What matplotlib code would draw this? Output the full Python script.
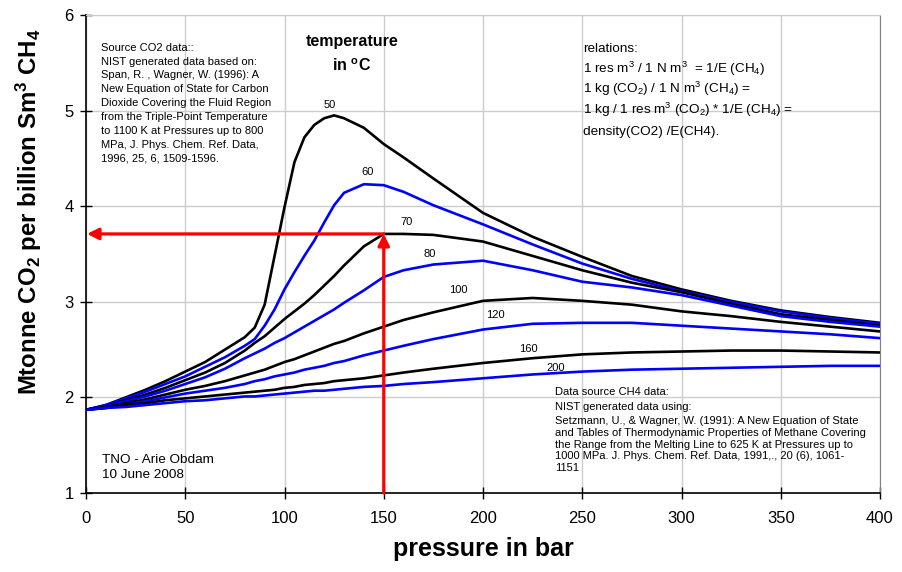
import numpy as np
import matplotlib.pyplot as plt

plt.rcParams['font.family'] = ['Liberation Sans', 'DejaVu Sans']
plt.rcParams['mathtext.fontset'] = 'custom'
plt.rcParams['mathtext.rm'] = 'Liberation Sans'
plt.rcParams['mathtext.it'] = 'Liberation Sans:italic'
plt.rcParams['mathtext.bf'] = 'Liberation Sans:bold'

# pressure grid (bar)
pressure = [0, 10, 20, 30, 40, 50, 60, 70, 80, 85, 90, 95, 100, 105, 110, 115,
            120, 125, 130, 140, 150, 160, 175, 200, 225, 250, 275, 300, 325,
            350, 375, 400]

# Mtonne CO2 per billion Sm3 CH4, one list per temperature (deg C)
t50 = [1.87, 1.92, 2.00, 2.08, 2.17, 2.27, 2.37, 2.50, 2.63, 2.73, 2.97, 3.48,
       3.99, 4.46, 4.72, 4.85, 4.92, 4.95, 4.92, 4.82, 4.65, 4.51, 4.29, 3.93,
       3.68, 3.47, 3.27, 3.13, 3.01, 2.91, 2.84, 2.78]
t60 = [1.87, 1.92, 1.99, 2.06, 2.14, 2.22, 2.32, 2.42, 2.54, 2.61, 2.75, 2.92,
       3.13, 3.31, 3.48, 3.64, 3.83, 4.01, 4.14, 4.23, 4.22, 4.15, 4.01, 3.81,
       3.60, 3.40, 3.24, 3.11, 3.00, 2.90, 2.83, 2.77]
t70 = [1.87, 1.91, 1.97, 2.03, 2.10, 2.18, 2.26, 2.36, 2.49, 2.57, 2.64, 2.73,
       2.82, 2.90, 2.98, 3.07, 3.17, 3.27, 3.38, 3.58, 3.71, 3.71, 3.70, 3.63,
       3.48, 3.33, 3.20, 3.10, 2.98, 2.87, 2.81, 2.75]
t80 = [1.87, 1.91, 1.96, 2.01, 2.07, 2.14, 2.21, 2.30, 2.41, 2.46, 2.51, 2.57,
       2.62, 2.68, 2.74, 2.80, 2.86, 2.92, 2.99, 3.12, 3.26, 3.33, 3.39, 3.43,
       3.33, 3.21, 3.15, 3.07, 2.96, 2.85, 2.79, 2.74]
t100 = [1.87, 1.90, 1.94, 1.98, 2.03, 2.08, 2.12, 2.17, 2.23, 2.26, 2.29, 2.33,
        2.37, 2.40, 2.44, 2.48, 2.52, 2.56, 2.59, 2.67, 2.74, 2.81, 2.89, 3.01,
        3.04, 3.01, 2.97, 2.90, 2.85, 2.79, 2.74, 2.69]
t120 = [1.87, 1.89, 1.92, 1.96, 2.00, 2.04, 2.07, 2.10, 2.14, 2.17, 2.19, 2.22,
        2.24, 2.26, 2.29, 2.31, 2.33, 2.36, 2.38, 2.44, 2.49, 2.54, 2.61, 2.71,
        2.77, 2.78, 2.78, 2.75, 2.72, 2.69, 2.66, 2.62]
t160 = [1.87, 1.89, 1.92, 1.94, 1.97, 1.99, 2.01, 2.03, 2.05, 2.06, 2.07, 2.08,
        2.10, 2.11, 2.13, 2.14, 2.15, 2.17, 2.18, 2.20, 2.23, 2.26, 2.30, 2.36,
        2.41, 2.45, 2.47, 2.48, 2.49, 2.49, 2.48, 2.47]
t200 = [1.87, 1.89, 1.90, 1.92, 1.94, 1.96, 1.97, 1.99, 2.01, 2.01, 2.02, 2.03,
        2.04, 2.05, 2.06, 2.07, 2.07, 2.08, 2.09, 2.11, 2.12, 2.14, 2.16, 2.20,
        2.24, 2.27, 2.29, 2.30, 2.31, 2.32, 2.33, 2.33]

temps = ['50', '60', '70', '80', '100', '120', '160', '200']
series = [t50, t60, t70, t80, t100, t120, t160, t200]
colors = ['black', '#0000ff'] * 4

# label anchor (pressure, value) for each curve
label_xy = [(123, 5.06), (142, 4.36), (161.7, 3.83), (173.3, 3.50),
            (187.4, 3.12), (206, 2.86), (222.7, 2.51), (236.8, 2.31)]

# example read-off: 150 bar at 70 C
read_p = 150
read_val = 3.71

fig = plt.figure(figsize=(9.02, 5.72), dpi=100)
ax = fig.add_axes([86/902, 79/572, 794/902, 478/572])

for y, c in zip(series, colors):
    ax.plot(pressure, y, color=c, lw=1.9, solid_joinstyle='round',
            solid_capstyle='round')

for t, (lx, ly) in zip(temps, label_xy):
    ax.text(lx, ly, t, fontsize=8, ha='center', va='center')

# red arrows
arr = dict(arrowstyle='-|>', color='red', lw=2.3, mutation_scale=17,
           shrinkA=0, shrinkB=0)
ax.annotate('', xy=(0.5, read_val), xytext=(read_p, read_val), arrowprops=arr)
ax.annotate('', xy=(read_p, read_val), xytext=(read_p, 1), arrowprops=arr)

ax.set_xlim(0, 400)
ax.set_ylim(1, 6)
ax.set_xticks(np.arange(0, 401, 50))
ax.set_yticks(np.arange(1, 7, 1))
ax.grid(True, color='#cccccc', lw=1)
ax.set_axisbelow(True)
ax.tick_params(direction='inout', length=8, width=1, labelsize=12, color='black')
ax.tick_params(axis='x', pad=9)
ax.tick_params(axis='y', pad=5)
for s in ['left', 'bottom']:
    ax.spines[s].set_linewidth(1.2)
ax.spines['right'].set_color('#808080')
ax.spines['top'].set_color('#cccccc')


def text_block(x, y0, lines, step, size):
    for i, s in enumerate(lines):
        ax.text(x, y0 - i * step, s, fontsize=size, va='baseline', ha='left')


co2_lines = ['Source CO2 data::',
             'NIST generated data based on:',
             'Span, R. , Wagner, W. (1996): A',
             'New Equation of State for Carbon',
             'Dioxide Covering the Fluid Region',
             'from the Triple-Point Temperature',
             'to 1100 K at Pressures up to 800',
             'MPa, J. Phys. Chem. Ref. Data,',
             '1996, 25, 6, 1509-1596.']
text_block(7.6, 5.627, co2_lines, 13.9 / 95.6, 8)

rel_lines = ['relations:',
             '1 res m$^3$ / 1 N m$^3$  = 1/E (CH$_4$)',
             '1 kg (CO$_2$) / 1 N m$^3$ (CH$_4$) =',
             '1 kg / 1 res m$^3$ (CO$_2$) * 1/E (CH$_4$) =',
             'density(CO2) /E(CH4).']
text_block(250.4, 5.613, rel_lines, 20.7 / 95.6, 9.7)

text_block(236.3, 1 + (493 - 395) / 95.6,
           ['Data source CH4 data:', 'NIST generated data using:'],
           14.5 / 95.6, 8)
ch4_lines = ['Setzmann, U., & Wagner, W. (1991): A New Equation of State',
             'and Tables of Thermodynamic Properties of Methane Covering',
             'the Range from the Melting Line to 625 K at Pressures up to',
             '1000 MPa. J. Phys. Chem. Ref. Data, 1991,., 20 (6), 1061-',
             '1151']
text_block(236.3, 1 + (493 - 424) / 95.6, ch4_lines, 11.8 / 95.6, 8)

text_block(7.9, 1 + (493 - 462.7) / 95.6, ['TNO - Arie Obdam', '10 June 2008'],
           15.6 / 95.6, 9.7)

ax.text(134, 1 + (493 - 46) / 95.6, 'temperature', fontsize=11.5,
        fontweight='bold', ha='center', va='baseline')
ax.text(134, 1 + (493 - 71) / 95.6, r'in $^\mathbf{o}$C', fontsize=11.5,
        fontweight='bold', ha='center', va='baseline')

fig.text(29/902, 1 - 212/572,
         r'Mtonne CO$_\mathbf{2}$ per billion Sm$^\mathbf{3}$ CH$_\mathbf{4}$',
         rotation=90, fontsize=17.3, fontweight='bold', ha='center', va='center')
fig.text(483/902, 1 - 549/572, 'pressure in bar', fontsize=18,
         fontweight='bold', ha='center', va='center')

fig.savefig('out.png', dpi=100)
